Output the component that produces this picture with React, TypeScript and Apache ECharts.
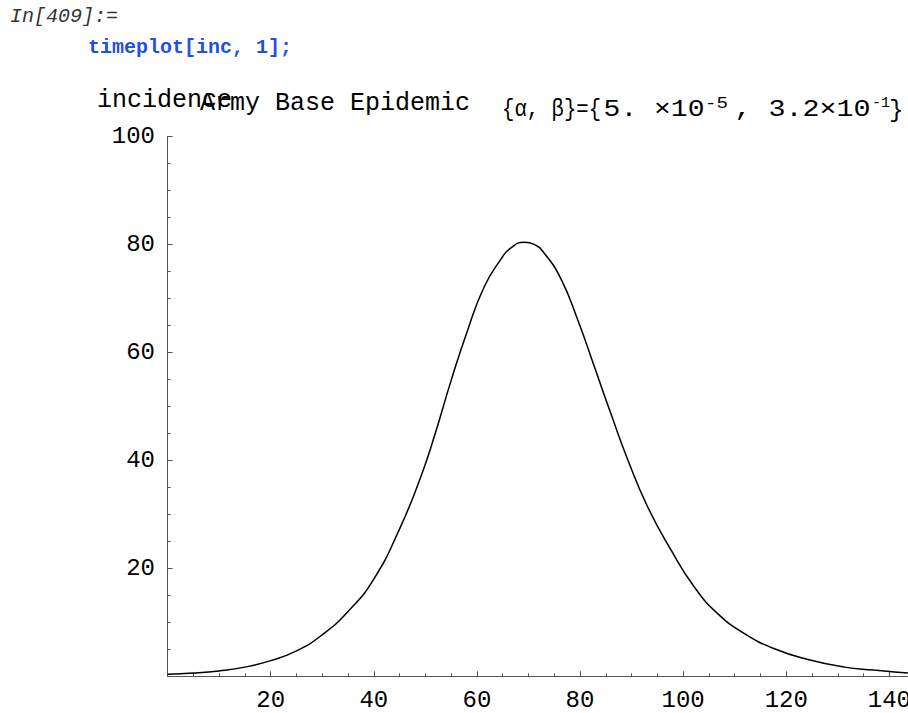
import React, { useEffect, useRef } from "react";
import * as echarts from "echarts";

// time (days) at which the curve was read
const times = [0, 5, 10, 15, 20, 25, 30, 35, 40, 45, 49.1, 51.7, 55, 58.2, 61.4, 64.7, 66.4, 69.2, 71.1, 73.1, 76.3, 79.6, 82.8, 86, 89.3, 93.1, 97.7, 102.2, 106.7, 111.9, 117.7, 124.2, 131.3, 137, 141, 143.6];
// incidence
const incidence = [0.4, 0.6, 1.0, 1.7, 2.9, 4.7, 7.7, 12.0, 18.0, 27.3, 36.9, 44.3, 54.8, 64.1, 72.1, 77.3, 79.2, 80.4, 80.0, 78.3, 73.6, 65.9, 57.3, 48.6, 40.0, 31.4, 23.3, 16.5, 11.6, 7.9, 5.1, 3.1, 1.7, 1.15, 0.8, 0.6];

const inputLabel = "In[409]:=";
const inputCode = "timeplot[inc, 1];";
const yAxisName = "incidence";
const titleText = "Army Base Epidemic";
const paramNames = "{α, β}={";
const alphaMantissa = "5. ×10";
const alphaExp = "-5";
const betaMantissa = ", 3.2×10";
const betaExp = "-1";
const closeBrace = "}";

const MONO = '"Liberation Mono", "DejaVu Sans Mono", monospace';

export default function App() {
  const ref = useRef<HTMLDivElement>(null);
  useEffect(() => {
    if (!ref.current) return;
    const chart = echarts.init(ref.current, null, { renderer: "svg" });
    const data = times.map((t, i) => [t, incidence[i]]);
    const txt = (text: string, x: number, y: number, size: number, extra: any = {}, scaleX = 1) => ({
      type: "text",
      x,
      y,
      scaleX,
      silent: true,
      style: {
        text,
        x: 0,
        y: 0,
        fill: extra.fill || "#000",
        font: `${extra.style || "normal"} ${extra.weight || "normal"} ${size}px ${MONO}`,
        textAlign: "left",
        textVerticalAlign: "middle",
        verticalAlign: "middle",
      },
    });
    const axisCommon = {
      type: "value",
      splitLine: { show: false },
      axisLine: { show: true, onZero: false, lineStyle: { color: "#555", width: 1 } },
      axisTick: { show: true, inside: true, length: 5, lineStyle: { color: "#555", width: 1 } },
      minorTick: { show: true, splitNumber: 4, length: 3, lineStyle: { color: "#555", width: 1 } },
    };
    chart.setOption({
      animation: false,
      backgroundColor: "#fff",
      grid: { left: 167.6, top: 136.3, width: 773.3, height: 540, outerBoundsMode: "none", containLabel: false },
      xAxis: {
        ...axisCommon,
        min: 0,
        max: 150,
        interval: 20,
        axisLabel: {
          showMinLabel: false,
          showMaxLabel: false,
          margin: 12,
          color: "#000",
          fontFamily: MONO,
          fontSize: 24,
        },
      },
      yAxis: {
        ...axisCommon,
        min: 0,
        max: 100,
        interval: 20,
        axisLabel: {
          showMinLabel: false,
          margin: 12.6,
          color: "#000",
          fontFamily: MONO,
          fontSize: 24,
        },
      },
      series: [
        {
          type: "line",
          data,
          smooth: 0.5,
          showSymbol: false,
          symbol: "none",
          lineStyle: { color: "#000", width: 1.5 },
          silent: true,
        },
      ],
      graphic: [
        txt(inputLabel, 10, 16, 20, { style: "italic", fill: "#333" }),
        txt(inputCode, 88, 47, 20, { weight: "bold", fill: "#1e4fe6" }),
        txt(yAxisName, 97, 100, 25),
        txt(titleText, 200, 103, 25),
        txt(paramNames, 502, 110, 24, {}, 0.86),
        txt(alphaMantissa, 603.6, 110, 24, {}, 1.167),
        txt(alphaExp, 705, 103, 16, {}, 1.2),
        txt(betaMantissa, 734.5, 110, 24, {}, 1.18),
        txt(betaExp, 872, 103, 15),
        txt(closeBrace, 889, 110, 24),
      ],
    });
    return () => chart.dispose();
  }, []);
  return (
    <div
      ref={ref}
      style={{ position: "fixed", left: 0, top: 0, width: 908, height: 713, background: "#fff" }}
    />
  );
}
